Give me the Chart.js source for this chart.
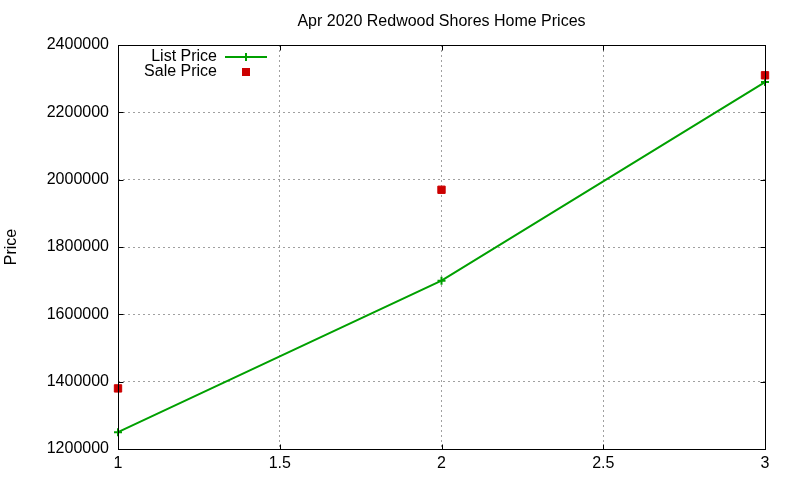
<!DOCTYPE html>
<html><head><meta charset="utf-8">
<script src="https://cdn.jsdelivr.net/npm/chart.js@4"></script>
<style>html,body{margin:0;padding:0;background:#fff}#c{display:block}</style>
</head><body>
<canvas id="c" width="800" height="480"></canvas>
<script>
const titleText = 'Apr 2020 Redwood Shores Home Prices';
const xValues = [1, 2, 3];
const listPrice = [1250000, 1700000, 2290000];
const salePrice = [1380000, 1970000, 2310000];
const seriesNames = ['List Price', 'Sale Price'];
const yAxisLabel = 'Price';
const FONT = "'Liberation Sans', Arial, sans-serif";
const FS = 16;
const GREEN = '#00a000';
const RED = '#cc0000';

const boxPlugin = {
  id: 'box',
  afterDraw(chart) {
    const {ctx, chartArea: a, scales} = chart;
    ctx.save();
    ctx.strokeStyle = '#000';
    ctx.lineWidth = 1;
    const L = Math.round(a.left) + 0.5, T = Math.round(a.top) + 0.5;
    const R = L + Math.round(a.right - a.left), B = T + Math.round(a.bottom - a.top);
    ctx.strokeRect(L, T, R - L, B - T);
    // inward tick marks
    ctx.beginPath();
    scales.x.ticks.forEach(t => {
      const px = Math.round(scales.x.getPixelForValue(t.value)) + 0.5;
      ctx.moveTo(px, B); ctx.lineTo(px, B - 5);
      ctx.moveTo(px, T); ctx.lineTo(px, T + 5);
    });
    scales.y.ticks.forEach(t => {
      const py = Math.round(scales.y.getPixelForValue(t.value)) + 0.5;
      ctx.moveTo(L, py); ctx.lineTo(L + 5, py);
      ctx.moveTo(R, py); ctx.lineTo(R - 5, py);
    });
    ctx.stroke();
    // title centered on plot area
    ctx.font = FS + 'px ' + FONT;
    ctx.fillStyle = '#000';
    ctx.textAlign = 'center';
    ctx.textBaseline = 'middle';
    ctx.fillText(titleText, (a.left + a.right) / 2, 22);
    // y axis label
    ctx.save();
    ctx.translate(12, (a.top + a.bottom) / 2);
    ctx.rotate(-Math.PI / 2);
    ctx.fillText(yAxisLabel, 0, 0);
    ctx.restore();
    // legend
    ctx.textAlign = 'right';
    const tx = 217, y1 = 57, y2 = 72;
    ctx.fillText(seriesNames[0], tx, y1);
    ctx.fillText(seriesNames[1], tx, y2);
    ctx.strokeStyle = GREEN;
    ctx.lineWidth = 2;
    ctx.beginPath(); ctx.moveTo(225, y1); ctx.lineTo(267, y1); ctx.stroke();
    ctx.beginPath(); ctx.moveTo(246, y1 - 4); ctx.lineTo(246, y1 + 4); ctx.moveTo(242, y1); ctx.lineTo(250, y1); ctx.stroke();
    ctx.fillStyle = RED;
    ctx.fillRect(242, y2 - 4, 8, 8);
    ctx.restore();
  }
};

new Chart(document.getElementById('c'), {
  type: 'scatter',
  data: {
    datasets: [
      {
        label: seriesNames[0],
        data: xValues.map((x, i) => ({x, y: listPrice[i]})),
        showLine: true,
        borderColor: GREEN,
        backgroundColor: GREEN,
        borderWidth: 2,
        pointStyle: 'cross',
        pointRadius: 4,
        pointBorderWidth: 2,
        clip: false,
        order: 2
      },
      {
        label: seriesNames[1],
        data: xValues.map((x, i) => ({x, y: salePrice[i]})),
        showLine: false,
        borderColor: RED,
        backgroundColor: RED,
        pointStyle: 'rect',
        pointRadius: 5.2,
        pointBorderWidth: 1,
        clip: false,
        order: 1
      }
    ]
  },
  plugins: [boxPlugin],
  options: {
    responsive: false,
    animation: false,
    layout: {padding: {left: 0, right: 35, top: 45, bottom: 0}},
    plugins: {
      legend: {display: false},
      tooltip: {enabled: false},
      title: {display: false}
    },
    scales: {
      x: {
        type: 'linear',
        min: 1, max: 3,
        ticks: {stepSize: 0.5, color: '#000', font: {family: FONT, size: FS}, padding: 5,
          callback: v => String(v)},
        grid: {color: '#a0a0a0', drawTicks: false, lineWidth: 1},
        border: {display: false, dash: [2, 3]},
        afterFit(s) { s.height = 31; }
      },
      y: {
        min: 1200000, max: 2400000,
        ticks: {stepSize: 200000, color: '#000', font: {family: FONT, size: FS}, padding: 9,
          callback: v => String(v)},
        grid: {color: '#a0a0a0', drawTicks: false, lineWidth: 1},
        border: {display: false, dash: [2, 3]},
        afterFit(s) { s.width = 118; }
      }
    }
  }
});
</script>
</body></html>
